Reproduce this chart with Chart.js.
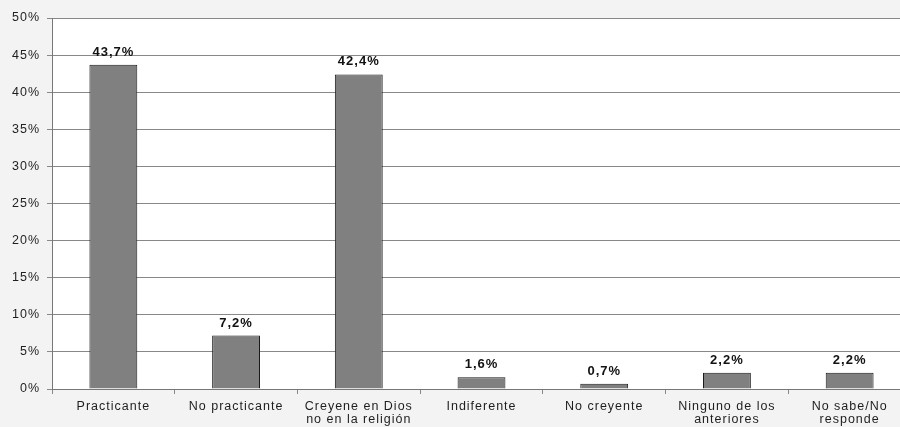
<!DOCTYPE html>
<html>
<head>
<meta charset="utf-8">
<script src="https://cdn.jsdelivr.net/npm/chart.js@4"></script>
<style>
  html, body { margin: 0; padding: 0; background: #f3f3f3; overflow: hidden; }
  #wrap { position: relative; width: 911px; height: 427px; }
</style>
</head>
<body>
<div id="wrap"><canvas id="chart"></canvas></div>
<script>
// Religiosidad declarada (% de respuestas)
const categories = [
  'Practicante',
  'No practicante',
  ['Creyene en Dios', 'no en la religión'],
  'Indiferente',
  'No creyente',
  ['Ninguno de los', 'anteriores'],
  ['No sabe/No', 'responde']
];
const values = [43.7, 7.2, 42.4, 1.6, 0.7, 2.2, 2.2];
const yTicks = [0, 5, 10, 15, 20, 25, 30, 35, 40, 45, 50];

const fmt = v => v.toFixed(1).replace('.', ',') + '%';

// white plot area + spaced-out text, like the old office render
const plotBg = {
  id: 'plotBg',
  beforeLayout(chart) { chart.ctx.letterSpacing = '1px'; },
  beforeDraw(chart) {
    const { ctx, chartArea: a } = chart;
    ctx.letterSpacing = '1px';
    ctx.save();
    ctx.fillStyle = '#ffffff';
    ctx.fillRect(a.left, a.top, a.right - a.left, a.bottom - a.top);
    ctx.restore();
  }
};

// value labels above each bar
const barLabels = {
  id: 'barLabels',
  afterDatasetsDraw(chart) {
    const ctx = chart.ctx;
    const meta = chart.getDatasetMeta(0);
    ctx.save();
    ctx.letterSpacing = '1px';
    ctx.font = 'bold 13px "Liberation Sans", Arial, sans-serif';
    ctx.fillStyle = '#111';
    ctx.textAlign = 'center';
    ctx.textBaseline = 'alphabetic';
    meta.data.forEach((bar, i) => {
      ctx.fillText(fmt(values[i]), bar.x, bar.y - 9);
    });
    ctx.restore();
  }
};

Chart.defaults.font.family = '"Liberation Sans", Arial, sans-serif';
Chart.defaults.font.size = 12.5;
Chart.defaults.color = '#1e1e1e';

new Chart(document.getElementById('chart'), {
  type: 'bar',
  data: {
    labels: categories,
    datasets: [{
      data: values,
      backgroundColor: '#808080',
      borderColor: '#1a1a1a',
      borderWidth: 1,
      categoryPercentage: 1,
      barPercentage: 0.39
    }]
  },
  options: {
    responsive: true,
    maintainAspectRatio: false,
    animation: false,
    layout: { padding: { top: 18, left: 0, right: 0, bottom: 0 } },
    plugins: { legend: { display: false }, tooltip: { enabled: false } },
    scales: {
      x: {
        grid: { offset: true, drawOnChartArea: false, drawTicks: true, tickLength: 5, color: '#888' },
        border: { display: true, color: '#777' },
        ticks: { padding: 6, maxRotation: 0, autoSkip: false, font: { size: 12.5, lineHeight: 1.05 } },
        afterFit(s) { s.height = 427 - 389; }
      },
      y: {
        min: 0,
        max: 50,
        afterBuildTicks(s) { s.ticks = yTicks.map(v => ({ value: v })); },
        grid: { color: '#888', tickLength: 5, lineWidth: 1 },
        border: { display: true, color: '#777' },
        ticks: { padding: 7, callback: v => v + '%' },
        afterFit(s) { s.width = 52; }
      }
    }
  },
  plugins: [plotBg, barLabels]
});
</script>
</body>
</html>
